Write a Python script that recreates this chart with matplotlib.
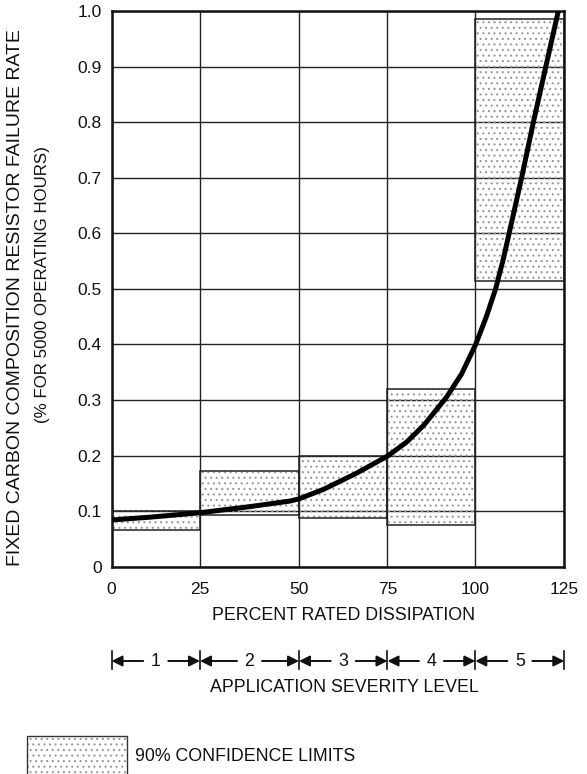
import numpy as np
import matplotlib
matplotlib.use("Agg")
import matplotlib.pyplot as plt
import matplotlib.transforms as mtransforms
from matplotlib.patches import Rectangle

# ---------------- data ----------------
dissipation_ticks = [0, 25, 50, 75, 100, 125]
rate_ticks = [0, 0.1, 0.2, 0.3, 0.4, 0.5, 0.6, 0.7, 0.8, 0.9, 1.0]
rate_tick_labels = ["0", "0.1", "0.2", "0.3", "0.4", "0.5", "0.6", "0.7", "0.8", "0.9", "1.0"]

band_left = [0, 25, 50, 75, 100]
band_width = [25, 25, 25, 25, 25]
band_lower = [0.066, 0.093, 0.087, 0.075, 0.514]
band_upper = [0.100, 0.172, 0.200, 0.320, 0.986]

severity_levels = ["1", "2", "3", "4", "5"]

curve_x = [0, 10.9, 25, 37.6, 47.7, 50, 56.9, 66.2, 75, 80.4, 85.4, 91.8,
           96.1, 100.1, 103.1, 105.7, 107.8, 109.5, 113.0, 116.3, 119.8, 123.3]
curve_y = [0.084, 0.089, 0.097, 0.108, 0.118, 0.122, 0.139, 0.168, 0.199, 0.224,
           0.255, 0.305, 0.347, 0.400, 0.450, 0.500, 0.552, 0.600, 0.700, 0.800,
           0.900, 1.000]

# ---------------- style ----------------
# the hand-drawn grid columns are not evenly spaced (pixel offsets of the grid lines)
grid_px = [0, 88.5, 187.5, 276.0, 363.8, 452.8]

plt.rcParams["font.family"] = ["Liberation Sans", "DejaVu Sans"]
plt.rcParams["font.size"] = 12.8
plt.rcParams["hatch.linewidth"] = 0.8

INK = "#111111"
DOTS = "#9a9a9a"

W, H = 587, 774
fig = plt.figure(figsize=(W / 100, H / 100), dpi=100)
ax_left, ax_right, ax_top, ax_bottom = 111.5, 564.3, 11.3, 566.6
ax = fig.add_axes([ax_left / W, 1 - ax_bottom / H,
                   (ax_right - ax_left) / W, (ax_bottom - ax_top) / H])


def fwd(x):
    return np.interp(x, dissipation_ticks, grid_px)


def inv(x):
    return np.interp(x, grid_px, dissipation_ticks)


ax.set_xscale("function", functions=(fwd, inv))
ax.set_xlim(0, 125)
ax.set_ylim(0, 1.0)
ax.set_xticks(dissipation_ticks)
ax.set_xticklabels([str(t) for t in dissipation_ticks])
ax.set_yticks(rate_ticks)
ax.set_yticklabels(rate_tick_labels)
ax.tick_params(axis="both", length=0, labelsize=12.5, colors=INK)
ax.tick_params(axis="x", pad=11)
ax.tick_params(axis="y", pad=7)
ax.minorticks_off()
ax.grid(True, color="#222222", linewidth=1.0)
ax.set_axisbelow(True)
for s in ax.spines.values():
    s.set_linewidth(1.8)
    s.set_color(INK)

# confidence bands: dotted fill + outline
heights = np.array(band_upper) - np.array(band_lower)
ax.bar(band_left, heights, width=band_width, bottom=band_lower, align="edge",
       facecolor="none", edgecolor=DOTS, linewidth=0, hatch="...", zorder=2)
ax.bar(band_left, heights, width=band_width, bottom=band_lower, align="edge",
       fill=False, edgecolor="#222222", linewidth=1.1, zorder=3)

# failure-rate curve
ax.plot(curve_x, curve_y, color="black", linewidth=3.6, solid_capstyle="butt",
        solid_joinstyle="round", zorder=4)

# ---------------- below-axes annotations ----------------
fig.text(344 / W, 1 - 616 / H, "PERCENT RATED DISSIPATION", ha="center", va="center",
         fontsize=12.8, color=INK)

trans = mtransforms.blended_transform_factory(ax.transData, fig.transFigure)
y_arr = 1 - 661 / H
y_b0, y_b1 = 1 - 669 / H, 1 - 651 / H
for b in dissipation_ticks:
    ax.plot([b, b], [y_b0, y_b1], transform=trans, clip_on=False, color=INK, lw=1.2)
for i, lvl in enumerate(severity_levels):
    lo, hi = dissipation_ticks[i], dissipation_ticks[i + 1]
    mid = inv((fwd(lo) + fwd(hi)) / 2)
    ax.text(mid, y_arr, lvl, transform=trans, ha="center", va="center",
            fontsize=12.8, color=INK)
    for end in (lo, hi):
        ax.annotate("", xy=(end, y_arr), xycoords=trans, xytext=(mid, y_arr),
                    textcoords=trans, annotation_clip=False,
                    arrowprops=dict(arrowstyle="-|>", color=INK, lw=1.4,
                                    mutation_scale=16, shrinkA=9, shrinkB=0))

fig.text(344 / W, 1 - 687.5 / H, "APPLICATION SEVERITY LEVEL", ha="center", va="center",
         fontsize=12.8, color=INK)

# legend swatch (cut at the bottom of the image, as in the original)
lx0, lx1, ly0 = 27.3, 126.7, 735.7
fig.patches.append(Rectangle((lx0 / W, 1 - 800 / H), (lx1 - lx0) / W, (800 - ly0) / H,
                             transform=fig.transFigure, facecolor="none",
                             edgecolor=DOTS, linewidth=0, hatch="..."))
fig.patches.append(Rectangle((lx0 / W, 1 - 800 / H), (lx1 - lx0) / W, (800 - ly0) / H,
                             transform=fig.transFigure, fill=False,
                             edgecolor="#333333", linewidth=1.0))
fig.text(135 / W, 1 - 756.7 / H, "90% CONFIDENCE LIMITS", ha="left", va="center",
         fontsize=12.8, color=INK)

# y-axis title (two lines)
fig.text(16 / W, 1 - 298 / H, "FIXED CARBON COMPOSITION RESISTOR FAILURE RATE",
         rotation=90, ha="center", va="center", fontsize=14, color=INK)
fig.text(43 / W, 1 - 285 / H, "(% FOR 5000 OPERATING HOURS)",
         rotation=90, ha="center", va="center", fontsize=12.2, color=INK)

fig.savefig("out.png", dpi=100)
